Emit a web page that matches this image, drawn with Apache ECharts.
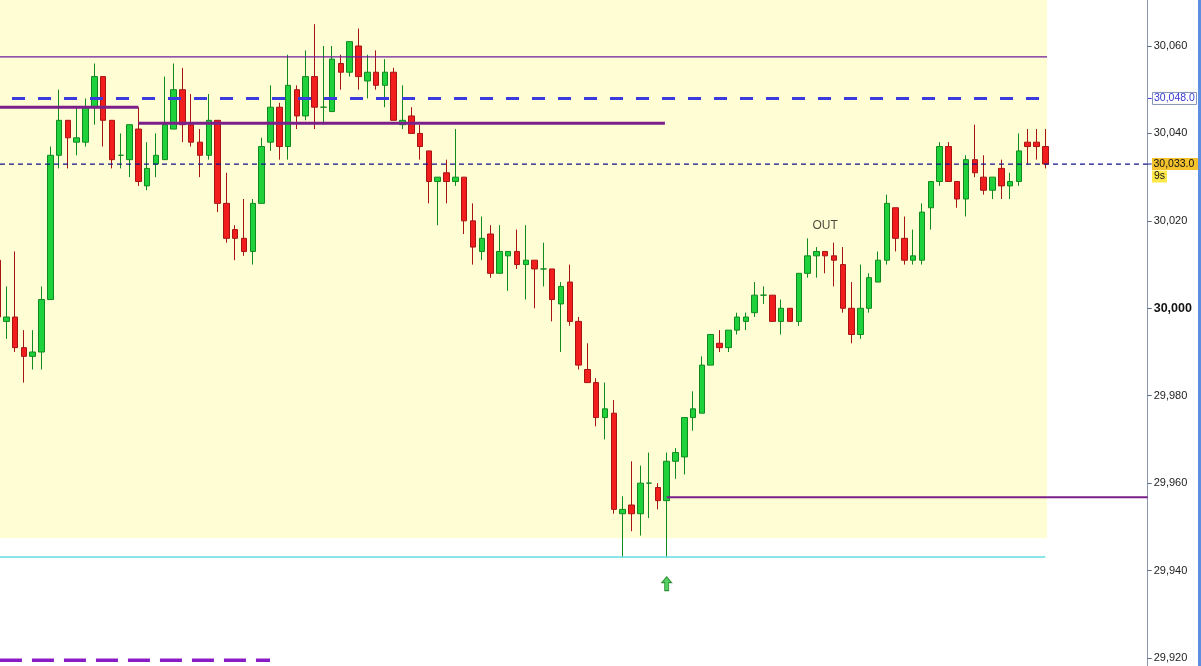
<!DOCTYPE html>
<html><head><meta charset="utf-8">
<script src="https://cdn.jsdelivr.net/npm/echarts@6/dist/echarts.min.js"></script>
<style>html,body{margin:0;padding:0;background:#fff;}#c{width:1201px;height:666px;}</style>
</head><body><div id="c"></div>
<script>
// bar index of the first candle (partly hidden at the left edge)
const firstBar = -1;
// [open, close, low, high]
const candles = [
[30011,29998,29997,30015],
[29997,29998,29993,30005],[29998,29991,29990,30013],[29991,29989,29983,29995],[29989,29990,29986,29995],
[29990,30002,29986,30005],[30002,30035,30002,30037],[30035,30043,30032,30050],[30043,30039,30032,30043],
[30038,30039,30035,30046],[30038,30046,30037,30048],[30046,30053,30042,30056],[30053,30043,30037,30053],
[30043,30034,30032,30043],[30035,30035,30032,30040],[30034,30042,30030,30042],[30041,30029,30028,30046],
[30028,30032,30027,30038],[30033,30035,30030,30040],[30034,30042,30034,30053],[30041,30050,30041,30056],
[30050,30042,30038,30055],[30042,30038,30037,30049],[30038,30035,30030,30041],[30035,30043,30034,30049],
[30043,30024,30022,30043],[30024,30016,30015,30031],[30018,30016,30011,30019],[30016,30013,30012,30025],
[30013,30024,30010,30025],[30024,30037,30024,30039],[30038,30046,30036,30051],[30046,30037,30034,30047],
[30037,30051,30034,30058],[30050,30044,30041,30051],[30044,30053,30043,30059],[30053,30046,30041,30065],
[30046,30046,30042,30060],[30045,30057,30045,30060],[30056,30054,30050,30058],[30054,30061,30053,30061],
[30060,30053,30050,30064],[30052,30054,30048,30058],[30054,30051,30050,30059],[30051,30054,30046,30057],
[30054,30043,30043,30055],[30042,30043,30041,30051],[30044,30040,30040,30046],[30040,30037,30034,30042],
[30036,30029,30024,30036],[30029,30030,30019,30030],[30031,30029,30024,30034],[30029,30030,30028,30041],
[30030,30020,30017,30030],[30020,30014,30010,30024],[30013,30016,30011,30021],[30017,30008,30007,30019],
[30008,30013,30008,30019],[30012,30013,30004,30013],[30013,30010,30009,30018],[30010,30011,30002,30019],
[30011,30009,30000,30011],[30009,30009,30005,30015],[30009,30002,29997,30009],[30001,30005,29990,30006],
[30006,29997,29996,30010],[29997,29987,29986,29998],[29986,29983,29983,29992],[29983,29975,29973,29984],
[29975,29977,29970,29983],[29976,29954,29953,29979],[29953,29954,29943,29957],[29955,29953,29949,29965],
[29953,29960,29948,29964],[29960,29960,29952,29967],[29959,29956,29954,29960],[29956,29965,29943,29967],
[29965,29967,29961,29968],[29966,29975,29962,29975],[29975,29977,29972,29981],[29976,29987,29976,29989],
[29987,29994,29987,29994],[29992,29991,29990,29995],[29991,29995,29990,29995],[29995,29998,29994,29999],
[29997,29998,29995,29999],[29999,30003,29998,30006],[30003,30003,30001,30005],[30003,29997,29997,30003],
[29997,30000,29994,30002],[30000,29997,29997,30000],[29997,30008,29996,30008],[30008,30012,30007,30016],
[30012,30013,30007,30014],[30013,30012,30008,30013],[30012,30011,30005,30015],[30010,30000,29999,30014],
[30000,29994,29992,30006],[29994,30000,29993,30010],[30000,30007,29999,30008],[30006,30011,30006,30013],
[30011,30024,30010,30026],[30023,30016,30013,30023],[30016,30011,30010,30021],[30011,30012,30010,30018],
[30011,30022,30010,30024],[30023,30029,30018,30029],[30029,30037,30028,30038],[30037,30029,30029,30038],
[30029,30025,30023,30029],[30025,30034,30021,30035],[30034,30031,30030,30042],[30030,30027,30026,30035],
[30027,30030,30025,30030],[30032,30028,30025,30034],[30028,30029,30025,30031],[30029,30036,30028,30040],
[30038,30037,30033,30041],[30038,30037,30034,30041],[30037,30033,30032,30041]
];
const yTicks = [29920,29940,29960,29980,30000,30020,30040,30060];
// price levels: [price, fromBar, toBar]
const thinResistance = [30057.5, -0.72, 118.2];
const targetLevel = [30048, 0.65, 117.4];
const swingHighA = [30046, -0.72, 15];
const swingHighB = [30042.3, 15, 74.8];
const lastPrice = [30033, -0.72, 129.63];
const supportLevel = [29956.8, 75, 129.63];
const lowLevel = [29943.1, -0.72, 118];
const bottomDashed = [29919.5, -0.72, 29.95];
const sessionArea = [-0.72, 118.2, 29947.4];   // from bar, to bar, bottom price
const buyArrow = [75, 29937];
const outMark = [93, 30019, 'OUT'];
const countdown = '9s';

const fmt = v => String(v).replace(/\B(?=(\d{3})+(?!\d))/g, ',');
const chart = echarts.init(document.getElementById('c'), null, {renderer:'canvas'});
function lvl(a, color, width, type, z){
  return {type:'line', data:[[a[1],a[0]],[a[2],a[0]]], symbol:'none', silent:true, z:z||4,
    lineStyle:{color, width, type}, animation:false};
}
const option = {
  animation:false,
  backgroundColor:'#ffffff',
  grid:{left:0, right:53.3, top:-41.43, height:786.86, containLabel:false, outerBoundsMode:'none'},
  xAxis:{type:'value', min:-0.7155, max:129.63, show:false},
  yAxis:{type:'value', position:'right', min:29900, max:30080, interval:20,
    axisLine:{show:true, onZero:false, lineStyle:{color:'#8a98ad', width:1}},
    axisTick:{show:true, length:4, lineStyle:{color:'#5a6a80'}},
    splitLine:{show:false},
    axisLabel:{margin:6, color:'#222', fontSize:11, fontFamily:'Liberation Sans, Arial, sans-serif',
      formatter: v => yTicks.includes(v) ? (v===30000 ? '{b|' + fmt(v) + '}' : fmt(v)) : '',
      rich:{b:{fontWeight:'bold', fontSize:12.5, color:'#111', fontFamily:'Liberation Sans, Arial, sans-serif'}}}
  },
  series:[
    {type:'candlestick', z:3, barWidth:6,
      data: candles.map((c,i)=>[i+firstBar, c[0], c[1], c[2], c[3]]),
      itemStyle:{color:'#1fd23c', color0:'#f21d1d', borderColor:'#0f8a1f', borderColor0:'#a81414', borderColorDoji:'#0f8a1f', borderWidth:1},
      markArea:{silent:true, z:1, itemStyle:{color:'#FFFDD3'},
        data:[[{coord:[sessionArea[0], sessionArea[2]]},{coord:[sessionArea[1], 30080]}]]}
    },
    lvl(thinResistance, '#6e1a9e', 1.2, 'solid'),
    lvl(targetLevel, '#3a3ade', 3, [13,13]),
    lvl(swingHighA, '#7b1f8a', 3, 'solid'),
    lvl(swingHighB, '#7b1f8a', 3, 'solid'),
    lvl(lastPrice, '#10108a', 1.2, [5,4]),
    lvl(supportLevel, '#7b1f8a', 2, 'solid'),
    lvl(lowLevel, '#66dde2', 1.5, 'solid'),
    lvl(bottomDashed, '#8a1cc6', 3.5, [22,10]),
    {type:'scatter', z:5, silent:true, data:[buyArrow],
      symbol:'path://M5,0 L10,6 L7,6 L7,14 L3,14 L3,6 L0,6 Z', symbolSize:[10,14],
      itemStyle:{color:'#2cc43a', borderColor:'#11801c', borderWidth:1}},
    {type:'scatter', z:5, silent:true, data:[[outMark[0], outMark[1]]], symbolSize:1,
      itemStyle:{color:'rgba(0,0,0,0)'},
      label:{show:true, position:'inside', formatter:outMark[2], color:'#1a1a1a', fontSize:12, fontFamily:'Liberation Sans, Arial, sans-serif'}}
  ]
};
chart.setOption(option);
const yp = v => chart.convertToPixel({yAxisIndex:0}, v);
const axisX = chart.convertToPixel({xAxisIndex:0}, 129.63);
const yT = yp(targetLevel[0]), yL = yp(lastPrice[0]);
const font = '10.5px "Liberation Sans", Arial, sans-serif';
chart.setOption({graphic:[
  {type:'rect', shape:{x:1198, y:0, width:3, height:666}, style:{fill:'#5d8ee2'}},
  {type:'line', shape:{x1:axisX, y1:yT, x2:axisX+4, y2:yT}, style:{stroke:'#3a3ade'}},
  {type:'rect', shape:{x:1152.5, y:yT-6, width:44, height:12}, style:{fill:'#ffffff', stroke:'#8494b8', lineWidth:1}},
  {type:'text', x:1154, y:yT, style:{text:fmt(targetLevel[0])+'.0', fill:'#3838d0', font, verticalAlign:'middle'}},
  {type:'line', shape:{x1:axisX, y1:yL, x2:axisX+4, y2:yL}, style:{stroke:'#1b1b8f'}},
  {type:'rect', shape:{x:1152, y:yL-6, width:46, height:12}, style:{fill:'#f3c22c'}},
  {type:'text', x:1153.5, y:yL, style:{text:fmt(lastPrice[0])+'.0', fill:'#111', font, verticalAlign:'middle'}},
  {type:'rect', shape:{x:1152, y:yL+6.5, width:15, height:12}, style:{fill:'#fde84c'}},
  {type:'text', x:1154, y:yL+12.5, style:{text:countdown, fill:'#111', font, verticalAlign:'middle'}}
]});
</script></body></html>
